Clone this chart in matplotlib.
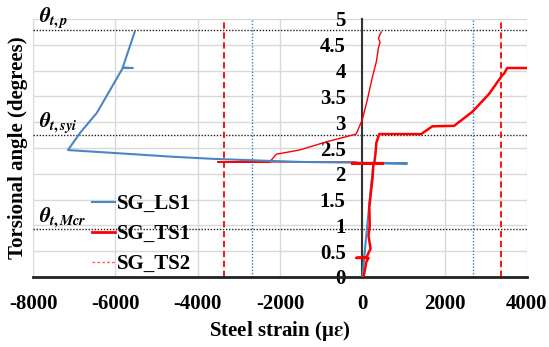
import matplotlib
matplotlib.use("Agg")
import matplotlib.pyplot as plt
from matplotlib.lines import Line2D

# ---- data -------------------------------------------------------------
ls1_strain = [0, 60, 120, 180, 230, 270, 1090, 600, -500, -1500, -2250,
              -3630, -4600, -5960, -7150, -6860, -6450, -6130, -5820,
              -5575, -5820, -5530]
ls1_angle = [0, 0.5, 1.0, 1.5, 1.9, 2.2, 2.2, 2.21, 2.22, 2.23, 2.25,
             2.29, 2.33, 2.40, 2.46, 2.79, 3.18, 3.62, 4.05, 4.05, 4.06, 4.75]

ts1_strain = [30, 100, 150, 120, -150, 100, 200, 150, 180, 170, 250, 270,
              -250, 500, 290, 320, 340, 410, 1430, 1700, 2230, 2670, 3080,
              3390, 3450, 3520, 4000]
ts1_angle = [0, 0.3, 0.37, 0.37, 0.37, 0.38, 0.55, 0.8, 1.0, 1.36, 1.94,
             2.2, 2.2, 2.2, 2.2, 2.4, 2.6, 2.77, 2.77, 2.92, 2.93, 3.2,
             3.55, 3.9, 3.95, 4.05, 4.05]

ts2_strain = [-150, -3510, -2250, -2090, -1530, -870, -150, 0, 120, 240,
              340, 390, 430, 390, 460]
ts2_angle = [2.23, 2.23, 2.23, 2.38, 2.46, 2.62, 2.77, 3.05, 3.43, 3.86,
             4.17, 4.44, 4.55, 4.63, 4.75]

yield_strain_ls = [-2680, 2680]
yield_strain_ts = [-3370, 3370]

theta_levels = [4.79, 2.75, 0.93]
theta_labels = [r"$\theta_{t,p}$", r"$\theta_{t,syi}$", r"$\theta_{t,Mcr}$"]

x_ticks = [-8000, -6000, -4000, -2000, 0, 2000, 4000]
y_ticks = [0, 0.5, 1, 1.5, 2, 2.5, 3, 3.5, 4, 4.5, 5]
y_tick_labels = ["0", "0.5", "1", "1.5", "2", "2.5", "3", "3.5", "4", "4.5", "5"]

# ---- styling ----------------------------------------------------------
plt.rcParams["font.family"] = ["Liberation Serif", "DejaVu Serif"]
plt.rcParams["font.weight"] = "bold"
plt.rcParams["mathtext.fontset"] = "stix"

blue = "#4a86c4"
red = "#ff0000"
fs = 15

fig = plt.figure(figsize=(5.49, 3.47), dpi=100)
ax = fig.add_axes([33 / 549, 1 - 277 / 347, 494 / 549, 258 / 347])

ax.set_xlim(-8000, 4000)
ax.set_ylim(0, 5)
ax.set_xticks(x_ticks)
ax.set_yticks(y_ticks)
ax.set_xticklabels([str(v) for v in x_ticks])
ax.set_yticklabels(y_tick_labels)
ax.grid(True, color="#d9d9d9", lw=1.0)
ax.set_axisbelow(True)

for s in ("top", "right"):
    ax.spines[s].set_visible(False)
ax.spines["left"].set_position(("data", 0))
ax.spines["left"].set_color("#333333")
ax.spines["left"].set_linewidth(1.5)
ax.spines["bottom"].set_color("#222222")
ax.spines["bottom"].set_linewidth(2.0)
ax.tick_params(axis="both", length=0, labelsize=fs)
ax.tick_params(axis="x", pad=12)
ax.tick_params(axis="y", pad=12)

# reference levels
for lvl in theta_levels:
    ax.axhline(lvl, color="#222222", lw=1.0, ls=(0, (1, 1.2)), zorder=2)
for xv in yield_strain_ts:
    ax.axvline(xv, color=red, lw=1.3, ls=(0, (3.5, 2)), zorder=2)
for xv in yield_strain_ls:
    ax.axvline(xv, color="#3a7cc8", lw=1.0, ls=(0, (1, 1.3)), zorder=2)

for lvl, lab in zip(theta_levels, theta_labels):
    ax.text(-7860, lvl + 0.13, lab, fontsize=15, ha="left", va="baseline",
            clip_on=False)

# measured curves
ax.plot(ts2_strain, ts2_angle, color=red, lw=1.0, zorder=3)
ax.plot(ls1_strain, ls1_angle, color=blue, lw=1.5, zorder=4)
ax.plot(ts1_strain, ts1_angle, color=red, lw=1.8, zorder=5)

ax.set_xlabel("Steel strain (\u03bc$\\boldsymbol{\\varepsilon}$)", fontsize=fs,
              fontweight="bold", labelpad=4)
ax.set_ylabel("Torsional angle (degrees)", fontsize=fs, fontweight="bold")
ax.yaxis.set_label_coords(-0.01, 0.5)

handles = [
    Line2D([], [], color=blue, lw=1.5),
    Line2D([], [], color=red, lw=2.0),
    Line2D([], [], color="#ff6060", lw=1.0, ls=(0, (2, 1.5))),
]
fig.legend(handles, ["SG_LS1", "SG_TS1", "SG_TS2"], loc="upper left",
           bbox_to_anchor=(92 / 549, 1 - 194 / 347), frameon=False,
           fontsize=fs, handlelength=1.1, handletextpad=0.1,
           labelspacing=0.48, borderpad=0, borderaxespad=0)

fig.savefig("out.png", dpi=100)
